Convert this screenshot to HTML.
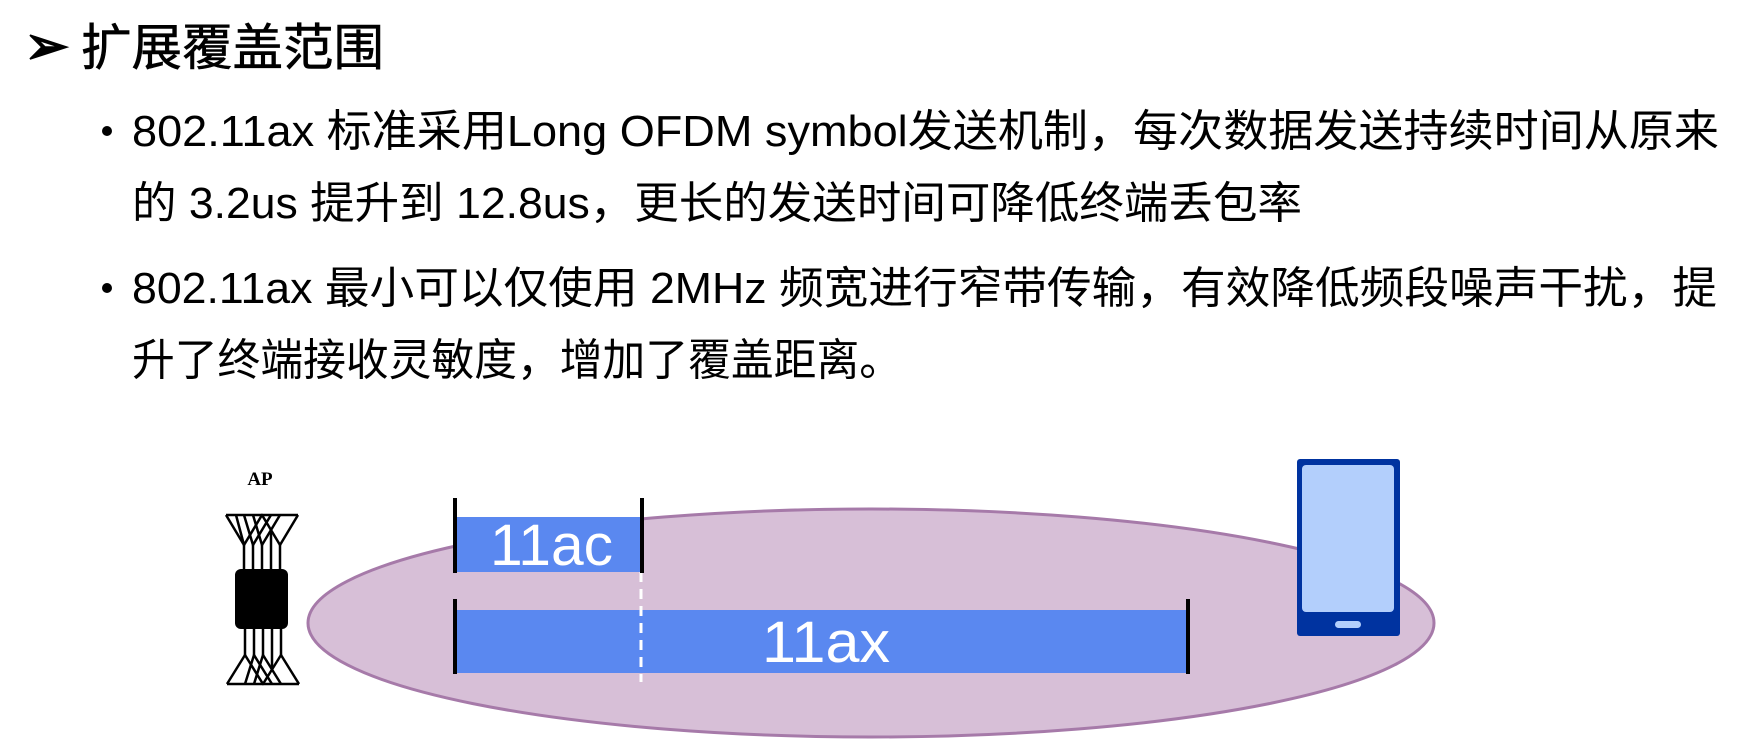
<!DOCTYPE html>
<html><head><meta charset="utf-8"><style>
html,body{margin:0;padding:0;background:#fff;}
svg{display:block;}
</style></head><body>
<svg width="1756" height="756" viewBox="0 0 1756 756" xmlns="http://www.w3.org/2000/svg">
<g font-family="'Liberation Sans','Noto Sans CJK SC',sans-serif" fill="#000">
<text x="24" y="64" font-size="54" font-weight="bold">➢</text>
<text x="81" y="65" font-size="50" textLength="303" lengthAdjust="spacingAndGlyphs" stroke="#000" stroke-width="0.6">扩展覆盖范围</text>
<circle cx="107" cy="131" r="5"/>
<text x="132" y="146" font-size="44" textLength="1587" lengthAdjust="spacingAndGlyphs">802.11ax 标准采用Long OFDM symbol发送机制，每次数据发送持续时间从原来</text>
<text x="132" y="218" font-size="44" textLength="1170" lengthAdjust="spacingAndGlyphs">的 3.2us 提升到 12.8us，更长的发送时间可降低终端丢包率</text>
<circle cx="107" cy="288" r="5"/>
<text x="132" y="303" font-size="44" textLength="1585" lengthAdjust="spacingAndGlyphs">802.11ax 最小可以仅使用 2MHz 频宽进行窄带传输，有效降低频段噪声干扰，提</text>
<text x="132" y="375" font-size="44" textLength="770" lengthAdjust="spacingAndGlyphs">升了终端接收灵敏度，增加了覆盖距离。</text>
</g>
<!-- ellipse -->
<ellipse cx="871" cy="623" rx="563" ry="114" fill="#d7bfd7" stroke="#a67aa9" stroke-width="3"/>
<!-- bars -->
<rect x="456" y="517" width="185" height="55" fill="#5a88f0"/>
<rect x="456" y="610" width="732" height="63" fill="#5a88f0"/>
<line x1="641" y1="572" x2="641" y2="682" stroke="#fff" stroke-width="3" stroke-dasharray="10 7"/>
<g stroke="#000" stroke-width="4">
<line x1="455" y1="498" x2="455" y2="573"/>
<line x1="642" y1="498" x2="642" y2="573"/>
<line x1="455" y1="599" x2="455" y2="674"/>
<line x1="1188" y1="599" x2="1188" y2="674"/>
</g>
<g font-family="'Liberation Sans',sans-serif" fill="#fff" font-size="58">
<text x="490" y="565" textLength="123" lengthAdjust="spacingAndGlyphs">11ac</text>
<text x="762" y="662" textLength="128" lengthAdjust="spacingAndGlyphs">11ax</text>
</g>
<!-- AP -->
<text x="260" y="485" font-family="'Liberation Serif',serif" font-weight="bold" font-size="19" text-anchor="middle">AP</text>
<g stroke="#000" stroke-width="2.5" fill="none" stroke-linejoin="round">
<path d="M226 515 L298 515"/>
<path d="M226 515 L244 545 L262 515 L280 545 L298 515"/>
<path d="M244 515 L253 545 L271 515"/>
<path d="M253 515 L262 545 L280 515"/>
<path d="M236 515 L244 545"/>
<line x1="244" y1="545" x2="244" y2="572"/><line x1="253" y1="545" x2="253" y2="572"/>
<line x1="262" y1="545" x2="262" y2="572"/><line x1="271" y1="530" x2="271" y2="572"/><line x1="280" y1="545" x2="280" y2="572"/>
<path d="M227 684 L299 684"/>
<path d="M227 684 L245 655 L263 684 L281 655 L299 684"/>
<path d="M245 684 L254 655 L272 684"/>
<path d="M254 684 L263 655 L281 684"/>
<line x1="245" y1="626" x2="245" y2="655"/><line x1="254" y1="626" x2="254" y2="655"/>
<line x1="263" y1="626" x2="263" y2="655"/><line x1="272" y1="626" x2="272" y2="668"/><line x1="281" y1="626" x2="281" y2="655"/>
</g>
<rect x="235" y="569" width="53" height="60" rx="6" fill="#000"/>
<!-- phone -->
<rect x="1297" y="459" width="103" height="177" rx="3" fill="#0033a0"/>
<rect x="1302" y="465" width="92" height="147" rx="4" fill="#b3cffc"/>
<rect x="1335" y="621" width="26" height="7" rx="3.5" fill="#b3cffc"/>
</svg>
</body></html>
